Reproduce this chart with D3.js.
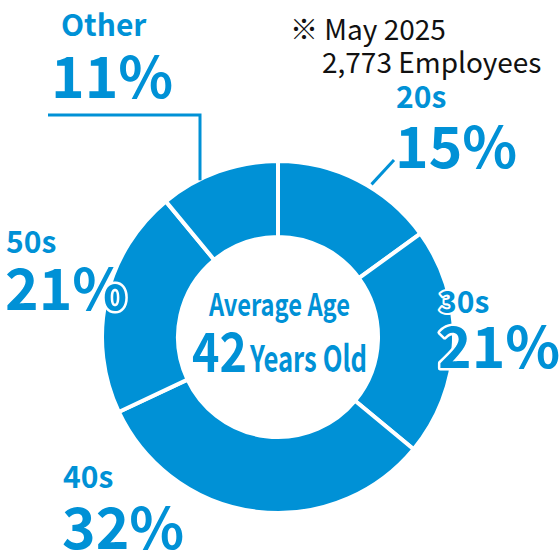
<!DOCTYPE html>
<html><head><meta charset="utf-8">
<script src="https://cdn.jsdelivr.net/npm/d3@7"></script>
<style>html,body{margin:0;padding:0;background:#fff;}svg{display:block;}</style>
</head><body>
<svg id="c" width="560" height="560"></svg>
<script>
const categories = ["20s", "30s", "40s", "50s", "Other"];
const values = [15, 21, 32, 21, 11];
const noteLines = ["※ May 2025", "2,773 Employees"];
const centerTitle = "Average Age";
const centerValue = "42";
const centerUnit = "Years Old";

const BLUE = "#0091d6";
const FONT = "'Noto Sans CJK JP', 'Source Sans Pro', 'Noto Sans', sans-serif";
const cx = 278, cy = 337, R = 176, r = 100;

const svg = d3.select("#c");
const g = svg.append("g").attr("transform", `translate(${cx},${cy})`);

const pie = d3.pie().sort(null).value(d => d)(values);
const arc = d3.arc().innerRadius(r).outerRadius(R);

g.selectAll("path.slice").data(pie).enter().append("path")
  .attr("class", "slice")
  .attr("d", arc)
  .attr("fill", BLUE)
  .attr("stroke", "#fff")
  .attr("stroke-width", 4)
  .attr("stroke-linejoin", "miter");

// leader lines
function pt(angleDeg, rad) {
  const a = angleDeg * Math.PI / 180;
  return [cx + rad * Math.sin(a), cy - rad * Math.cos(a)];
}
const otherX = 200;
const otherTopY = cy - Math.sqrt(R * R - (otherX - cx) * (otherX - cx));
svg.append("path")
  .attr("d", d3.line()([[48, 115], [otherX, 115], [otherX, otherTopY + 1]]))
  .attr("fill", "none").attr("stroke", BLUE).attr("stroke-width", 3);
const p20 = pt(31.5, R + 3);
svg.append("path")
  .attr("d", d3.line()([p20, [394, 160]]))
  .attr("fill", "none").attr("stroke", BLUE).attr("stroke-width", 3);

// labels (layout kept separate from data)
const labelLayout = {
  "20s":   {x1: 396, x2: 395, y1: 108, y2: 168},
  "30s":   {x1: 439, x2: 438, y1: 313, y2: 368},
  "40s":   {x1: 63,  x2: 62,  y1: 488, y2: 549},
  "50s":   {x1: 6,   x2: 5,   y1: 253, y2: 310},
  "Other": {x1: 61,  x2: 51,  y1: 36,  y2: 98}
};
categories.forEach((c, i) => {
  const L = labelLayout[c];
  svg.append("text").attr("x", L.x1).attr("y", L.y1).text(c)
    .attr("font-family", FONT).attr("font-weight", 700).attr("font-size", 30)
    .attr("fill", BLUE).attr("stroke", "#fff").attr("stroke-width", 4)
    .attr("paint-order", "stroke").attr("stroke-linejoin", "round");
  svg.append("text").attr("x", L.x2).attr("y", L.y2).text(values[i] + "%")
    .attr("font-family", FONT).attr("font-weight", 700).attr("font-size", 57)
    .attr("fill", BLUE).attr("stroke", "#fff").attr("stroke-width", 5)
    .attr("paint-order", "stroke").attr("stroke-linejoin", "round");
});

// note
svg.append("text").attr("x", 290).attr("y", 40).text(noteLines[0])
  .attr("font-family", FONT).attr("font-size", 28).attr("fill", "#111");
svg.append("text").attr("x", 322).attr("y", 73).text(noteLines[1])
  .attr("font-family", FONT).attr("font-size", 28).attr("fill", "#111");

// center
svg.append("text").attr("x", 209).attr("y", 315.5).text(centerTitle)
  .attr("font-family", FONT).attr("font-weight", 700).attr("font-size", 31)
  .attr("textLength", 141).attr("lengthAdjust", "spacingAndGlyphs")
  .attr("fill", BLUE);
svg.append("text").attr("x", 192).attr("y", 372).text(centerValue)
  .attr("font-family", FONT).attr("font-weight", 700).attr("font-size", 54)
  .attr("textLength", 55).attr("lengthAdjust", "spacingAndGlyphs")
  .attr("fill", BLUE);
svg.append("text").attr("x", 250).attr("y", 372).text(centerUnit)
  .attr("font-family", FONT).attr("font-weight", 700).attr("font-size", 36)
  .attr("textLength", 117).attr("lengthAdjust", "spacingAndGlyphs")
  .attr("fill", BLUE);
</script>
</body></html>
